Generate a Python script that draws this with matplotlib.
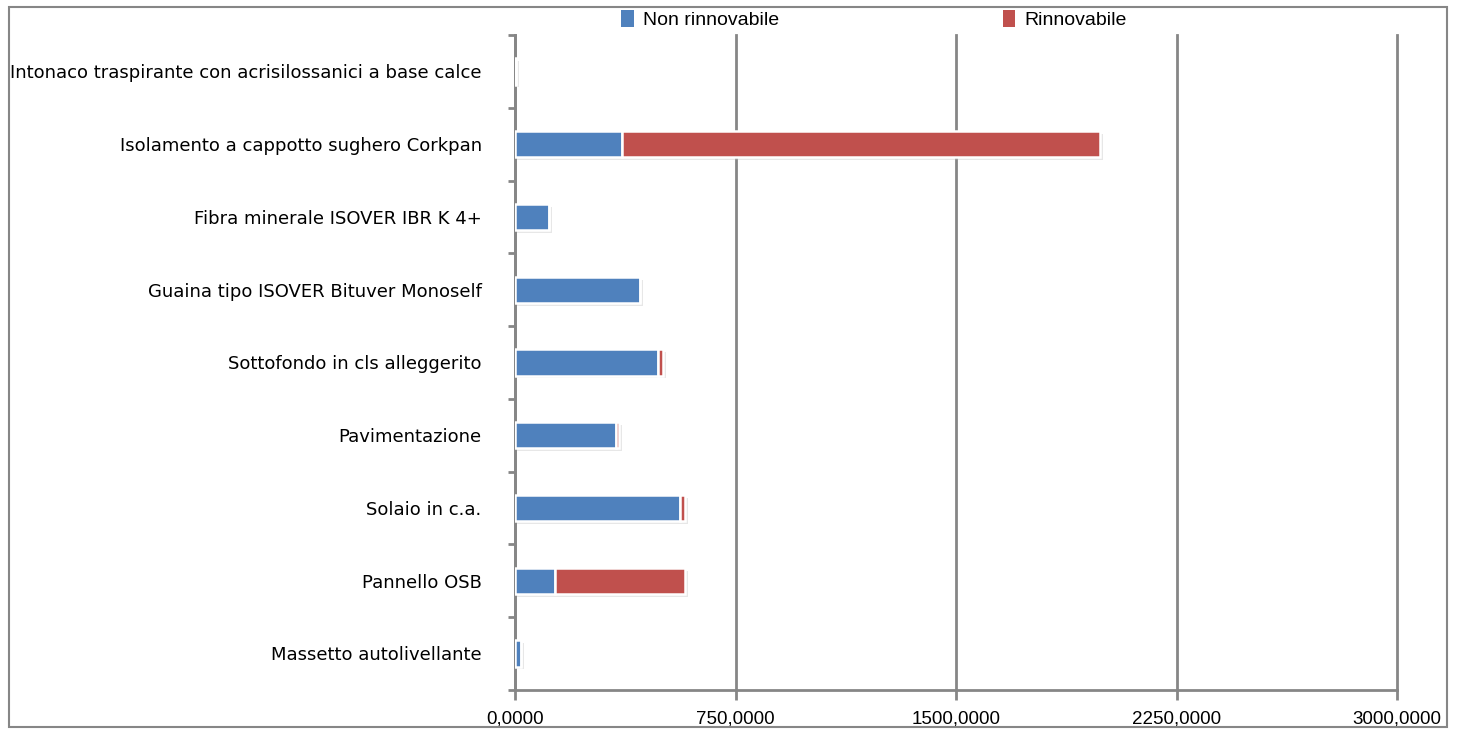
import numpy as np
import matplotlib.pyplot as plt
from matplotlib.patches import Rectangle

# Data
categories = [
    "Intonaco traspirante con acrisilossanici a base calce",
    "Isolamento a cappotto sughero Corkpan",
    "Fibra minerale ISOVER IBR K 4+",
    "Guaina tipo ISOVER Bituver Monoself",
    "Sottofondo in cls alleggerito",
    "Pavimentazione",
    "Solaio in c.a.",
    "Pannello OSB",
    "Massetto autolivellante",
]
non_rinnovabile = [3, 363, 115, 425, 486, 343, 560, 136, 20]
rinnovabile = [0, 1628, 0, 0, 16, 12, 17, 442, 0]
xticks = [0, 750, 1500, 2250, 3000]

blue = "#4f81bd"
red = "#c0504d"
grid_gray = "#868686"

fig = plt.figure(figsize=(14.59, 7.30), dpi=100)
ax = fig.add_axes([0.353, 0.055, 0.6045, 0.897])

y = np.arange(len(categories))[::-1]
h = 0.36

# soft shadow behind the bars
tot = np.array(non_rinnovabile) + np.array(rinnovabile)
ax.barh(y - 0.04, tot + 6, height=h, left=4, color="#bbbbbb", alpha=0.35,
        linewidth=0, zorder=2)

ax.barh(y, non_rinnovabile, height=h, color=blue, edgecolor="white",
        linewidth=1.8, zorder=3, label="Non rinnovabile")
ax.barh(y, rinnovabile, height=h, left=non_rinnovabile, color=red,
        edgecolor="white", linewidth=1.8, zorder=3, label="Rinnovabile")

ax.set_xlim(0, 3000)
ax.set_ylim(-0.5, len(categories) - 0.5)
ax.set_xticks(xticks)
ax.set_xticklabels([f"{v:.4f}".replace(".", ",") for v in xticks],
                   fontsize=13.5, family="Liberation Sans")
ax.set_yticks(y)
ax.set_yticklabels(categories, fontsize=13)
ax.set_yticks(np.arange(len(categories) + 1) - 0.5, minor=True)
ax.tick_params(axis="y", which="major", length=0, pad=24)
ax.tick_params(axis="y", which="minor", length=5, width=2, color=grid_gray)
ax.tick_params(axis="x", length=7, width=2, color=grid_gray, pad=8)

ax.grid(axis="x", color=grid_gray, linewidth=2, zorder=0)
for gl in ax.get_xgridlines():
    gl.set_clip_on(False)
ax.set_axisbelow(True)
for s in ["top", "right"]:
    ax.spines[s].set_visible(False)
for s in ["left", "bottom"]:
    ax.spines[s].set_color(grid_gray)
    ax.spines[s].set_linewidth(2)

leg = fig.legend(loc="center", bbox_to_anchor=(0.599, 0.973), ncol=2,
                 frameon=False, prop={"family": "Liberation Sans", "size": 14},
                 handlelength=0.65, handleheight=1.0,
                 columnspacing=11.5, handletextpad=0.45)
for p in leg.get_patches():
    p.set_edgecolor("none")

fig.patches.append(Rectangle((0.006, 0.004), 0.986, 0.986,
                             transform=fig.transFigure, fill=False,
                             edgecolor=grid_gray, linewidth=1.5))

fig.savefig("out.png", dpi=100)
